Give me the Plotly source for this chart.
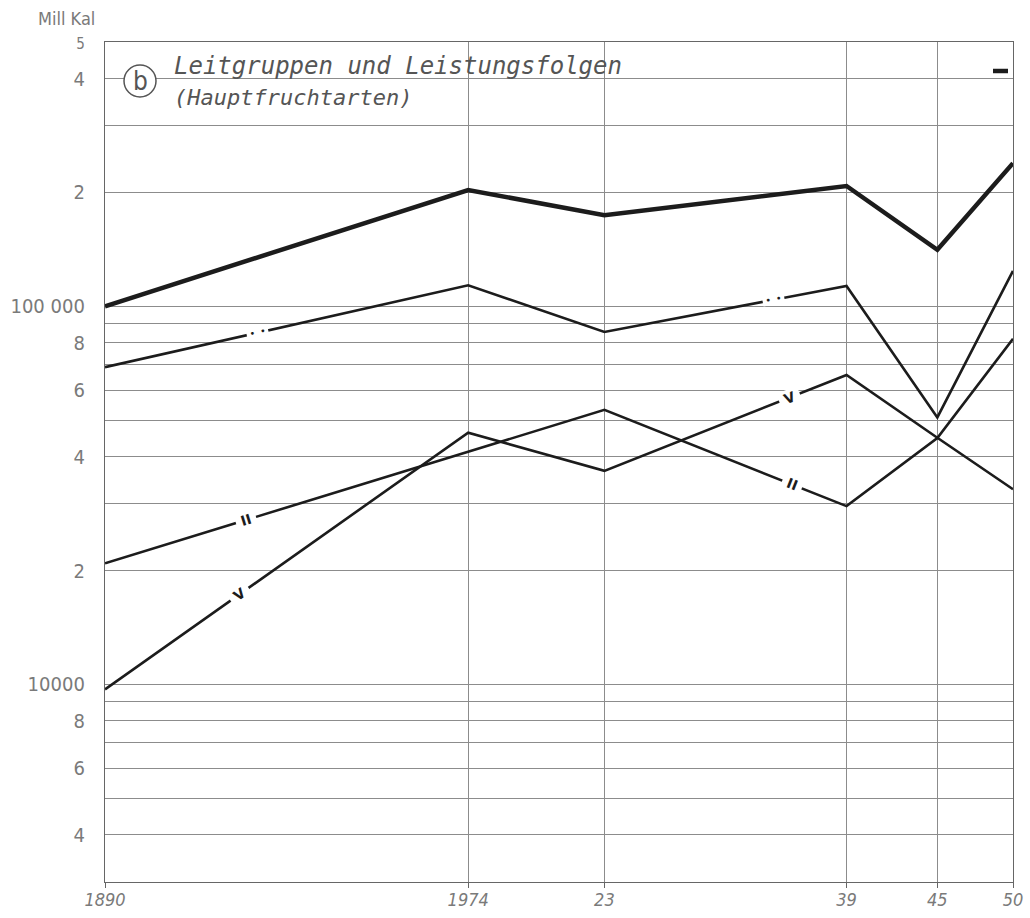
import math
import plotly.graph_objects as go

# ---------------- data ----------------
years = [1890, 1914, 1923, 1939, 1945, 1950]
x_tick_text = ["1890", "1974", "23", "39", "45", "50"]

gesamt = [100000, 203000, 174000, 208000, 141000, 239000]      # thick line
reihe_punkt = [69000, 113600, 85500, 113200, 50800, 124000]    # line marked -··-
reihe_ii = [20900, 41200, 53200, 29600, 44800, 82000]          # line marked II
reihe_v = [9700, 46300, 36700, 65800, 44900, 32800]            # line marked V

y_tick_vals = [500000, 400000, 300000, 200000, 100000, 90000, 80000, 70000, 60000,
               50000, 40000, 30000, 20000, 10000, 9000, 8000, 7000, 6000, 5000, 4000, 3000]
y_tick_text = ["<span style='font-size:15px'>5</span>", "4", "", "2", "100 000", "", "8", "", "6",
               "", "4", "", "2", "10000", "", "8", "", "6", "", "4", ""]

y_min, y_max = 3000, 500000
x_min, x_max = 1890, 1950

# ---------------- layout geometry ----------------
W, H = 1030, 918
ML, MR, MT, MB = 105, 17, 42, 36
PW, PH = W - ML - MR, H - MT - MB
px_year = PW / (x_max - x_min)
px_dec = PH / (math.log10(y_max) - math.log10(y_min))

INK = "#1c1c1c"
GRID = "#8c8c8c"
LABEL = "#7a7a7a"
FONT = "DejaVu Sans Condensed, DejaVu Sans, Liberation Sans, sans-serif"
MONO = "DejaVu Sans Mono, Liberation Mono, monospace"


def px_x(p):
    return (p - ML) / PW


def px_y(p):
    return (H - MB - p) / PH


fig = go.Figure()

series = [
    (gesamt, 4.5, [], 12),
    (reihe_punkt, 2.6, [(1900.1, " •  • "), (1934.2, " •  • ")], 8),
    (reihe_ii, 2.6, [(1899.3, " II "), (1935.4, " II ")], 14),
    (reihe_v, 2.6, [(1898.9, " V "), (1935.2, " V ")], 14),
]

annotations = []
for vals, lw, marks, fsize in series:
    fig.add_trace(go.Scatter(x=years, y=vals, mode="lines",
                             line=dict(color=INK, width=lw), hoverinfo="x+y",
                             showlegend=False))
    for xm, txt in marks:
        for i in range(len(years) - 1):
            if years[i] <= xm <= years[i + 1]:
                break
        x0, x1 = years[i], years[i + 1]
        l0, l1 = math.log10(vals[i]), math.log10(vals[i + 1])
        f = (xm - x0) / (x1 - x0)
        lm = l0 + f * (l1 - l0)
        dx = (x1 - x0) * px_year
        dy = -(l1 - l0) * px_dec
        ang = math.degrees(math.atan2(dy, dx))
        annotations.append(dict(x=xm, y=lm, xref="x", yref="y", text=txt,
                                xanchor="center", yanchor="middle",
                                showarrow=False, textangle=ang, bgcolor="white",
                                borderpad=0,
                                font=dict(family="DejaVu Sans", size=fsize,
                                          color=INK, weight="bold")))

# title / labels
annotations += [
    dict(x=px_x(66), y=px_y(18), xref="paper", yref="paper",
         xanchor="center", yanchor="middle",
         text="Mill Kal", showarrow=False,
         font=dict(family=FONT, size=18, color=LABEL)),
    dict(x=px_x(172), y=px_y(66), xref="paper", yref="paper",
         xanchor="left", yanchor="middle",
         text="Leitgruppen und Leistungsfolgen", showarrow=False,
         font=dict(family=MONO, size=24, color="#555", style="italic")),
    dict(x=px_x(172), y=px_y(97), xref="paper", yref="paper",
         xanchor="left", yanchor="middle",
         text="(Hauptfruchtarten)", showarrow=False,
         font=dict(family=MONO, size=22, color="#555", style="italic")),
    dict(x=px_x(140), y=px_y(81), xref="paper", yref="paper",
         xanchor="center", yanchor="middle",
         text="b", showarrow=False,
         font=dict(family=FONT, size=26, color="#555")),
]

shapes = [
    dict(type="circle", xref="paper", yref="paper", xsizemode="pixel", ysizemode="pixel",
         xanchor=px_x(140), yanchor=px_y(81),
         x0=-16, x1=16, y0=-16, y1=16, fillcolor="white",
         line=dict(color="#555", width=1.5), layer="above"),
    dict(type="line", xref="paper", yref="paper",
         x0=px_x(993), x1=px_x(1008), y0=px_y(71), y1=px_y(71),
         line=dict(color=INK, width=4.5)),
]

fig.update_layout(
    width=W, height=H,
    margin=dict(l=ML, r=MR, t=MT, b=MB, pad=0, autoexpand=False),
    paper_bgcolor="white", plot_bgcolor="white",
    annotations=annotations, shapes=shapes,
    showlegend=False,
    xaxis=dict(range=[x_min, x_max], tickmode="array", tickvals=years,
               ticktext=x_tick_text, ticks="outside", ticklen=5, tickcolor="#666",
               showgrid=True, gridcolor=GRID, gridwidth=1,
               showline=True, mirror=True, linecolor="#666", linewidth=1.3,
               zeroline=False, automargin=False, ticklabelstandoff=-4,
               tickfont=dict(family=FONT, size=18, color=LABEL, style="italic")),
    yaxis=dict(type="log", range=[math.log10(y_min), math.log10(y_max)],
               tickmode="array", tickvals=y_tick_vals, ticktext=y_tick_text,
               ticks="", showgrid=True, gridcolor=GRID, gridwidth=1,
               showline=True, mirror=True, linecolor="#666", linewidth=1.3,
               zeroline=False, ticklabelstandoff=15, automargin=False,
               tickfont=dict(family=FONT, size=20, color=LABEL)),
)

fig.write_html("out.html", config={"displayModeBar": False},
               post_script="document.body.style.margin='0';document.body.style.padding='0';")
